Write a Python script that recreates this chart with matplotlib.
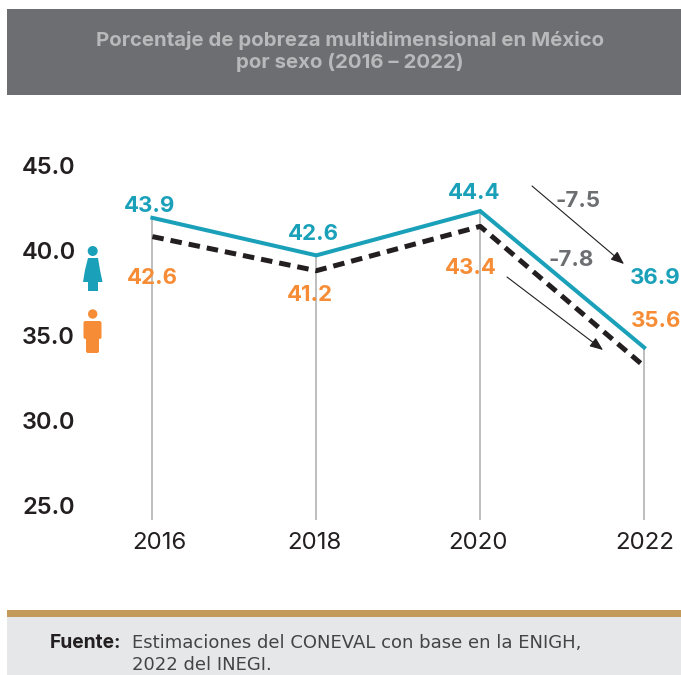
import matplotlib
matplotlib.use('Agg')
import matplotlib.pyplot as plt
from matplotlib.patches import Rectangle, Circle, Polygon, FancyBboxPatch
from matplotlib.transforms import Affine2D, ScaledTranslation

# ------------------- Data -------------------
years = [2016, 2018, 2020, 2022]
# line heights as read against the y axis
mujeres = [41.9, 39.7, 42.3, 34.3]
hombres = [40.8, 38.8, 41.4, 33.2]
# numbers printed next to the lines
mujeres_labels = ['43.9', '42.6', '44.4', '36.9']
hombres_labels = ['42.6', '41.2', '43.4', '35.6']
y_ticks = [25, 30, 35, 40, 45]
y_ticklabels = ['25.0', '30.0', '35.0', '40.0', '45.0']
x_ticklabels = ['2016', '2018', '2020', '2022']
title = 'Porcentaje de pobreza multidimensional en México\npor sexo (2016 – 2022)'
fuente = 'Estimaciones del CONEVAL con base en la ENIGH,\n2022 del INEGI.'

TEAL = '#1aa1b9'
ORANGE = '#f68c35'
GREY = '#6d6e71'
DARK = '#231f20'
W, H = 681, 675

plt.rcParams['font.family'] = ['Inter', 'DejaVu Sans']

fig = plt.figure(figsize=(W / 100, H / 100), dpi=100)


def fx(px):
    return px / W


def fy(py):
    return 1 - py / H


def frect(x0, y0, x1, y1, color):
    fig.patches.append(Rectangle((fx(x0), fy(y1)), fx(x1) - fx(x0), (y1 - y0) / H,
                                 transform=fig.transFigure, color=color, lw=0))


# ------------------- Header and footer bands -------------------
frect(7, 9, 681, 95, GREY)
frect(7, 610, 681, 617, '#c49a5a')
frect(7, 617, 681, 675, '#e6e7e8')
fig.text(fx(350), fy(51.5), title, color='#b8b9bb', fontsize=14.7, fontweight='bold',
         ha='center', va='center', linespacing=1.15)
fig.text(fx(50), fy(643), 'Fuente:', color=DARK, fontsize=13.8, fontweight='bold', va='center')
fig.text(fx(132), fy(654), fuente, color='#444446', fontsize=13, va='center', linespacing=1.35,
         family='DejaVu Sans')

# ------------------- Axes -------------------
left, right, top, bottom = 80, 681, 100, 600
ax = fig.add_axes([fx(left), fy(bottom), fx(right) - fx(left), (bottom - top) / H])
ax.patch.set_visible(False)
ax.set_xlim(2016 + (left - 152.4) / 81.95, 2016 + (right - 152.4) / 81.95)
ax.set_ylim(45 - (bottom - 165) / 17.05, 45 - (top - 165) / 17.05)
for s in ax.spines.values():
    s.set_visible(False)

ax.set_yticks(y_ticks)
ax.set_yticklabels(y_ticklabels, fontsize=17, fontweight='semibold', color=DARK, ha='left')
ax.tick_params(axis='y', length=0, pad=(left - 22) * 0.72)
ax.set_xticks(years)
ax.set_xticklabels(x_ticklabels, fontsize=17.3, color=DARK)
ax.tick_params(axis='x', length=0, pad=-(bottom - 532) * 0.72)
# year labels are not quite centred under their lines
for lab, dx in zip(ax.get_xticklabels(), [7, -2, -2, 1]):
    lab.set_transform(lab.get_transform() + ScaledTranslation(dx / 100, 0, fig.dpi_scale_trans))

ax.vlines(years, 24.2, mujeres, color='#b3b3b3', lw=1.2, zorder=1)
ax.plot(years, mujeres, color=TEAL, lw=2.9, solid_joinstyle='miter', zorder=3)
ax.plot(years, hombres, color=DARK, lw=3.6, linestyle=(0, (2.3, 1.4)),
        dash_capstyle='butt', zorder=2)

# value labels, offset in pixels from each point
m_off = [(-3, 12), (-3, 21), (-6, 18), (11, 69)]
h_off = [(0, -41), (-6, -24), (-9, -42), (12, 45)]
for x, y, s, o in zip(years, mujeres, mujeres_labels, m_off):
    ax.annotate(s, (x, y), xytext=o, textcoords='offset pixels', color=TEAL,
                fontsize=16, fontweight='bold', ha='center', va='center')
for x, y, s, o in zip(years, hombres, hombres_labels, h_off):
    ax.annotate(s, (x, y), xytext=o, textcoords='offset pixels', color=ORANGE,
                fontsize=16, fontweight='bold', ha='center', va='center')

fig.text(fx(578), fy(201), '-7.5', color=GREY, fontsize=16, fontweight='bold', ha='center', va='center')
fig.text(fx(571), fy(260), '-7.8', color=GREY, fontsize=16, fontweight='bold', ha='center', va='center')

# ------------------- Arrows -------------------
for p0, p1 in [((532, 186), (624, 264)), ((507, 277), (603, 350))]:
    ax.annotate('', xy=(fx(p1[0]), fy(p1[1])), xytext=(fx(p0[0]), fy(p0[1])),
                xycoords='figure fraction', textcoords='figure fraction',
                arrowprops=dict(arrowstyle='-|>,head_length=0.8,head_width=0.32', color=DARK,
                                lw=0.8, shrinkA=0, shrinkB=0))

# ------------------- Pictograms -------------------
px_trans = Affine2D().scale(1 / W, -1 / H).translate(0, 1) + fig.transFigure


def add_patch(p):
    p.set_transform(px_trans)
    fig.patches.append(p)


# woman
add_patch(Circle((92.7, 251), 5, color=TEAL, lw=0))
add_patch(Polygon([(88, 258), (98, 258), (100, 270), (102.5, 282), (98, 282), (98, 291),
                   (88, 291), (88, 282), (83, 282), (85, 270)], closed=True, color=TEAL, lw=0))
# man
add_patch(Circle((92.7, 314), 4.7, color=ORANGE, lw=0))
add_patch(FancyBboxPatch((83.5, 321), 18, 18, boxstyle='round,pad=0,rounding_size=2', color=ORANGE, lw=0))
add_patch(FancyBboxPatch((86, 332), 13, 21, boxstyle='round,pad=0,rounding_size=2', color=ORANGE, lw=0))

fig.savefig('out.png', dpi=100)
